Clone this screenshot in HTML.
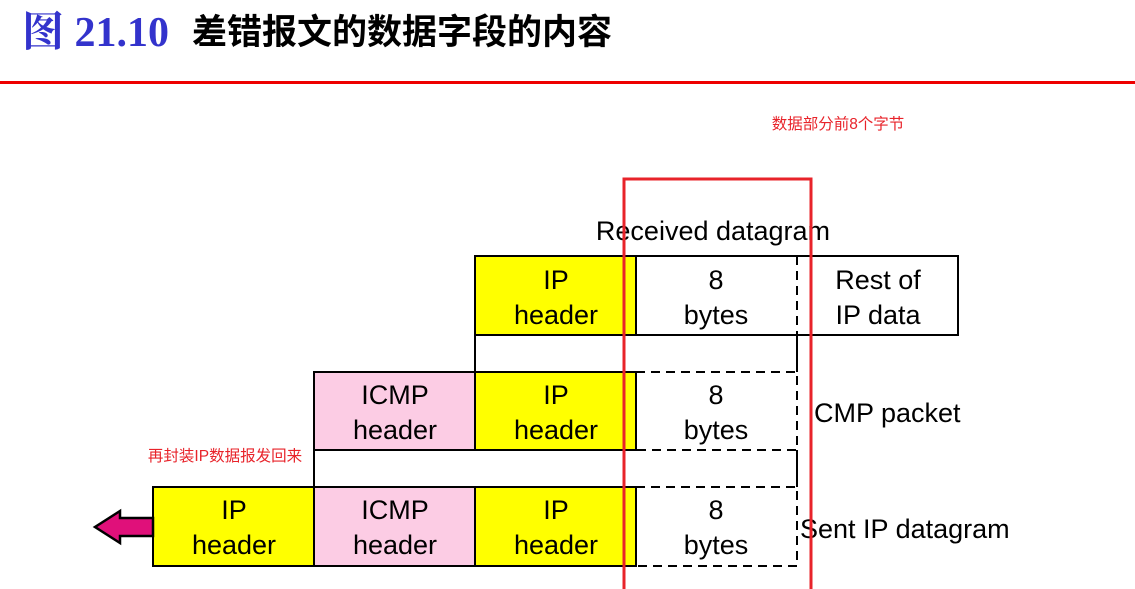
<!DOCTYPE html>
<html><head><meta charset="utf-8"><style>
body{margin:0;width:1135px;height:589px;background:#fff;overflow:hidden;position:relative;font-family:"Liberation Sans","Noto Sans CJK SC",sans-serif}
.t{position:absolute;white-space:nowrap}
</style></head><body>
<div class="t" style="left:22px;top:6px;font:bold 42px 'Liberation Serif','Noto Serif CJK SC',serif;color:#3333cc;line-height:54px">图 21.10</div>
<div class="t" style="left:192px;top:9px;font:bold 35px 'Liberation Sans','Noto Sans CJK SC',sans-serif;color:#000;line-height:48px">差错报文的数据字段的内容</div>
<div style="position:absolute;left:0;top:81px;width:1135px;height:3px;background:#e00"></div>
<svg width="1135" height="589" style="position:absolute;left:0;top:0" font-family="Liberation Sans, sans-serif" font-size="27" text-anchor="middle">
<g stroke="#000" stroke-width="2">
<rect x="475" y="256" width="161" height="79" fill="#ff0"/>
<rect x="636" y="256" width="322" height="79" fill="none"/>
<line x1="797" y1="256" x2="797" y2="335" stroke-dasharray="9,6"/>
<line x1="475" y1="335" x2="475" y2="372"/>
<line x1="797" y1="335" x2="797" y2="372"/>
<rect x="314" y="372" width="161" height="78" fill="#fccce4"/>
<rect x="475" y="372" width="161" height="78" fill="#ff0"/>
<path d="M636 372H797V450H636" fill="none" stroke-dasharray="9,6"/>
<line x1="314" y1="450" x2="314" y2="487"/>
<line x1="797" y1="450" x2="797" y2="487"/>
<rect x="153" y="487" width="161" height="79" fill="#ff0"/>
<rect x="314" y="487" width="161" height="79" fill="#fccce4"/>
<rect x="475" y="487" width="161" height="79" fill="#ff0"/>
<path d="M636 487H797V566H636" fill="none" stroke-dasharray="9,6"/>
<polygon points="153,518 120,518 120,511 95,527 120,543 120,536 153,536" fill="#e0107a" stroke-width="2.5"/>
</g>
<g fill="#000">
<text x="713" y="240">Received datagram</text>
<text x="556" y="289">IP</text><text x="556" y="324">header</text>
<text x="716" y="289">8</text><text x="716" y="324">bytes</text>
<text x="878" y="289">Rest of</text><text x="878" y="324">IP data</text>
<text x="395" y="404">ICMP</text><text x="395" y="439">header</text>
<text x="556" y="404">IP</text><text x="556" y="439">header</text>
<text x="716" y="404">8</text><text x="716" y="439">bytes</text>
<text x="814" y="422" text-anchor="start">CMP packet</text>
<text x="234" y="519">IP</text><text x="234" y="554">header</text>
<text x="395" y="519">ICMP</text><text x="395" y="554">header</text>
<text x="556" y="519">IP</text><text x="556" y="554">header</text>
<text x="716" y="519">8</text><text x="716" y="554">bytes</text>
<text x="800" y="538" text-anchor="start">Sent IP datagram</text>
</g>
<g fill="#e8232a" font-size="15.5" font-family="Liberation Sans, Noto Sans CJK SC, sans-serif">
<text x="838" y="129">数据部分前8个字节</text>
<text x="225" y="461">再封装IP数据报发回来</text>
</g>
<path d="M624 589V179H811V589" fill="none" stroke="#e8232a" stroke-width="3"/>
</svg>
</body></html>
